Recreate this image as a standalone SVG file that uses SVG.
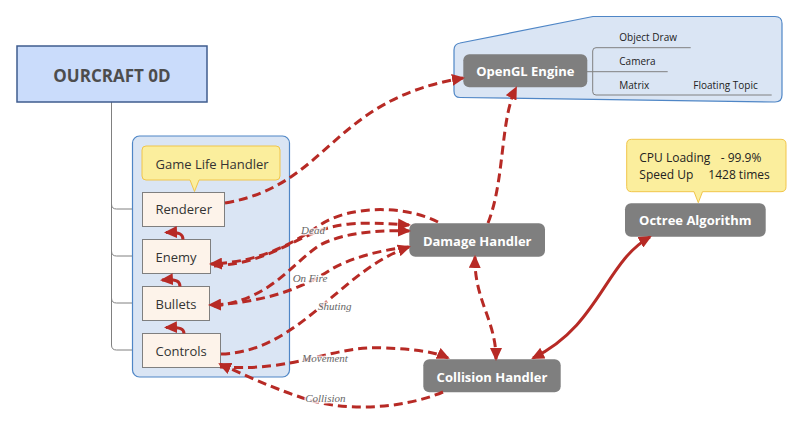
<svg xmlns="http://www.w3.org/2000/svg" width="803" height="442" viewBox="0 0 803 442">
<style>
.root{fill:#cadcfb;stroke:#3f5c8e;stroke-width:1.5}
.roott{font-family:"Open Sans","DejaVu Sans",sans-serif;font-weight:bold;font-size:17px;fill:#4d4d4d;text-anchor:middle}
.grp{fill:#dae5f4;stroke:#4f86c6;stroke-width:1.2}
.item{fill:#fdf3ea;stroke:#7f7f7f;stroke-width:1}
.itemt{font-family:"Open Sans","DejaVu Sans",sans-serif;font-size:13px;fill:#333}
.call{fill:#fbee9d;stroke:#f1c54a;stroke-width:1}
.callt{font-family:"Open Sans","DejaVu Sans",sans-serif;font-size:12px;fill:#222;white-space:pre}
.node{fill:#7f7f7f}
.nodet{font-family:"Open Sans","DejaVu Sans",sans-serif;font-weight:bold;font-size:13px;fill:#fff;text-anchor:middle}
.sub{font-family:"Open Sans","DejaVu Sans",sans-serif;font-size:10px;fill:#222}
.tree{fill:none;stroke:#808080;stroke-width:1}
.c{fill:none;stroke:#b72a25;stroke-width:3;stroke-dasharray:9 5}
.s{fill:none;stroke:#b72a25;stroke-width:3}
.lbl{font-family:"Liberation Serif","DejaVu Serif",serif;font-style:italic;font-size:11px;fill:#666;text-anchor:middle;stroke:#fff;stroke-width:3;stroke-opacity:0.75;paint-order:stroke}
</style>
<defs>
<marker id="ah" markerUnits="userSpaceOnUse" markerWidth="13" markerHeight="12" viewBox="0 0 13 12" refX="11" refY="6" orient="auto-start-reverse">
<path d="M0,0 L13,6 L0,12 Z" fill="#b72a25"/>
</marker>
</defs>

<g id="tree-lines">
<path class="tree" d="M111.5,102 V345 Q111.5,350 116.5,350 H142"/>
<path class="tree" d="M111.5,204 Q111.5,209 116.5,209 H142"/>
<path class="tree" d="M111.5,251 Q111.5,256 116.5,256 H142"/>
<path class="tree" d="M111.5,298 Q111.5,303 116.5,303 H142"/>
</g>

<g id="ourcraft">
<rect class="root" x="17" y="46" width="190" height="56"/>
<text class="roott" x="112" y="81.5">OURCRAFT 0D</text>
</g>

<g id="game-life-group">
<rect class="grp" x="132.5" y="136" width="157" height="241" rx="7"/>
</g>

<g id="game-life-handler">
<path class="call" d="M146,146 H276 Q280,146 280,150 V176 Q280,180 276,180 H199 L194.5,191.5 L190,180 H146 Q142,180 142,176 V150 Q142,146 146,146 Z"/>
<text class="itemt" x="155.5" y="168.5">Game Life Handler</text>
</g>

<g id="renderer">
<rect class="item" x="142.5" y="192.5" width="82" height="34"/>
<text class="itemt" x="155.5" y="214">Renderer</text>
</g>
<g id="enemy">
<rect class="item" x="142.5" y="239.5" width="68" height="34"/>
<text class="itemt" x="155.5" y="261.5">Enemy</text>
</g>
<g id="bullets">
<rect class="item" x="142.5" y="286.5" width="67" height="34"/>
<text class="itemt" x="155.5" y="308.5">Bullets</text>
</g>
<g id="controls">
<rect class="item" x="142.5" y="333.5" width="78" height="34"/>
<text class="itemt" x="155.5" y="355.5">Controls</text>
</g>

<g id="opengl-group">
<path class="grp" d="M460,43 L593,16.5 H775 Q782,16.5 782,23.5 V95 Q782,102 775,102 L460,97.5 Q454,97.5 454,91 V50 Q454,44 460,43 Z"/>
<path class="tree" d="M587,71.7 H592.7 M690.7,47.7 H596 Q592.7,47.7 592.7,51 V91.7 Q592.7,95 596,95 H771.7 M592.7,71.7 H667.7"/>
<text class="sub" x="619.3" y="40.5">Object Draw</text>
<text class="sub" x="619.3" y="65">Camera</text>
<text class="sub" x="619.3" y="89">Matrix</text>
<text class="sub" x="693.3" y="89">Floating Topic</text>
</g>

<g id="opengl-engine">
<rect class="node" x="463.3" y="54.3" width="124" height="33" rx="6"/>
<text class="nodet" x="525.3" y="76.3">OpenGL Engine</text>
</g>

<g id="damage-handler">
<rect class="node" x="409.3" y="223.3" width="135.7" height="33.4" rx="6"/>
<text class="nodet" x="477.2" y="245.5">Damage Handler</text>
</g>

<g id="collision-handler">
<rect class="node" x="423.3" y="359.3" width="137.4" height="33" rx="6"/>
<text class="nodet" x="492" y="381.5">Collision Handler</text>
</g>

<g id="octree-algorithm">
<rect class="node" x="625" y="203.3" width="140.7" height="33.4" rx="6"/>
<text class="nodet" x="695.3" y="225">Octree Algorithm</text>
</g>

<g id="octree-note">
<path class="call" d="M631.5,139.3 H781 Q786,139.3 786,144.3 V186.7 Q786,191.7 781,191.7 H702.5 L698.3,202.7 L694,191.7 H631.5 Q626.7,191.7 626.7,186.7 V144.3 Q626.7,139.3 631.5,139.3 Z"/>
<text class="callt" x="639.3" y="161.7">CPU Loading  <tspan x="720.7">- 99.9%</tspan></text>
<text class="callt" x="639.3" y="179.3">Speed Up    <tspan x="708.3">1428 times</tspan></text>
</g>

<g id="connectors">
<path class="c" marker-end="url(#ah)" d="M225,203 C330,185 330,100 463,78"/>
<path class="c" marker-end="url(#ah)" d="M488,223 C505,180 500,120 516,88"/>
<path class="c" marker-start="url(#ah)" marker-end="url(#ah)" d="M475,257 C474,300 496,320 496,359"/>
<path class="s" marker-start="url(#ah)" marker-end="url(#ah)" d="M650,237 C605,262 600,325 533,358"/>
<path class="c" marker-end="url(#ah)" d="M438,222 C405,205 350,205 320,225 C290,245 260,262 211,264"/>
<path class="c" marker-end="url(#ah)" d="M214,266 C280,262 300,228 350,224 C375,222 390,224 409,225"/>
<path class="c" marker-end="url(#ah)" d="M214,306 C270,300 290,265 320,245 C345,232 380,230 409,231"/>
<path class="c" marker-end="url(#ah)" d="M409,247 C380,250 350,258 330,270 C300,290 260,303 210,305"/>
<path class="c" marker-end="url(#ah)" d="M221,354 C300,352 340,270 409,247"/>
<path class="c" marker-end="url(#ah)" d="M220,367 C300,372 330,345 385,348 C415,349 435,352 448,358"/>
<path class="c" marker-end="url(#ah)" d="M443,392 C400,410 340,412 300,397 C270,387 245,375 220,364"/>
<path class="s" marker-end="url(#ah)" d="M183,239.5 C183,234 180,232 166,232.5"/>
<path class="s" marker-end="url(#ah)" d="M180,286.5 C180,281 177,279 162,280"/>
<path class="s" marker-end="url(#ah)" d="M184,333.5 C184,329 181,327 166,327.5"/>
<text class="lbl" x="313" y="234">Dead</text>
<text class="lbl" x="310" y="282.3">On Fire</text>
<text class="lbl" x="334.7" y="310">Shuting</text>
<text class="lbl" x="325" y="361.7">Movement</text>
<text class="lbl" x="325.3" y="402.3">Collision</text>
</g>
</svg>
